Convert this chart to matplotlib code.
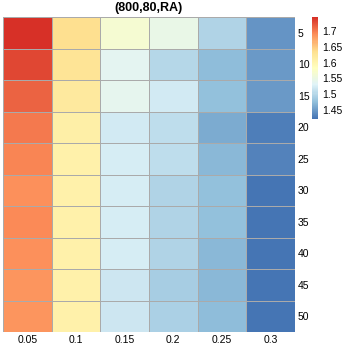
import numpy as np
import matplotlib
matplotlib.use("Agg")
import matplotlib.pyplot as plt
from matplotlib.colors import LinearSegmentedColormap

plt.rcParams['font.family'] = ['Liberation Sans', 'DejaVu Sans']

col_labels = ['0.05', '0.1', '0.15', '0.2', '0.25', '0.3']
row_labels = ['5', '10', '15', '20', '25', '30', '35', '40', '45', '50']

# one list per column (0.05 ... 0.3), rows 5..50
v005 = [1.745, 1.730, 1.715, 1.700, 1.695, 1.689, 1.690, 1.688, 1.685, 1.684]
v010 = [1.635, 1.630, 1.620, 1.610, 1.608, 1.607, 1.607, 1.607, 1.606, 1.607]
v015 = [1.565, 1.535, 1.540, 1.520, 1.522, 1.523, 1.522, 1.522, 1.515, 1.516]
v020 = [1.545, 1.500, 1.518, 1.505, 1.505, 1.495, 1.495, 1.496, 1.490, 1.492]
v025 = [1.497, 1.475, 1.478, 1.462, 1.470, 1.476, 1.478, 1.470, 1.470, 1.473]
v030 = [1.445, 1.447, 1.447, 1.428, 1.430, 1.420, 1.421, 1.422, 1.421, 1.423]

data = np.array([v005, v010, v015, v020, v025, v030]).T

palette = ['#4575B4', '#91BFDB', '#E0F3F8', '#FFFFBF', '#FEE090', '#FC8D59', '#D73027']
cmap = LinearSegmentedColormap.from_list('rdylbu7', palette, N=100)
vmin, vmax = data.min(), data.max()

fig = plt.figure(figsize=(3.45, 3.45), dpi=100)
W = H = 345.0
ax = fig.add_axes([3 / W, 1 - 332 / H, 292 / W, 315 / H])
mesh = ax.pcolormesh(data, cmap=cmap, vmin=vmin, vmax=vmax,
                     edgecolor='#AAAAAA', linewidth=0.45)
ax.set_xlim(0, data.shape[1])
ax.set_ylim(data.shape[0], 0)
for s in ax.spines.values():
    s.set_visible(False)
ax.set_xticks(np.arange(data.shape[1]) + 0.5)
ax.set_xticklabels(col_labels, fontsize=7.5)
ax.set_yticks(np.arange(data.shape[0]) + 0.5)
ax.set_yticklabels(row_labels, fontsize=7.5)
ax.yaxis.tick_right()
ax.tick_params(length=0, pad=2)
ax.set_title('(800,80,RA)', fontsize=9, fontweight='bold', pad=4)

cax = fig.add_axes([312 / W, 1 - 119 / H, 6 / W, 102 / H])
cb = fig.colorbar(mesh, cax=cax)
cb.outline.set_visible(False)
cb.set_ticks([1.45, 1.5, 1.55, 1.6, 1.65, 1.7])
cb.set_ticklabels(['1.45', '1.5', '1.55', '1.6', '1.65', '1.7'])
cax.tick_params(length=0, labelsize=7.5, pad=3)

fig.savefig('out.png', dpi=100)
